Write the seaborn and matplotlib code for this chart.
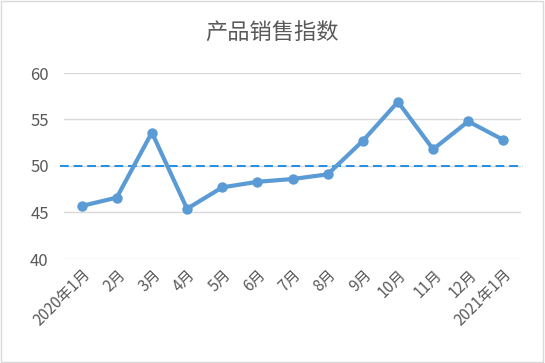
import matplotlib
matplotlib.use("Agg")
import matplotlib.pyplot as plt
import seaborn as sns
import pandas as pd
from matplotlib.patches import Rectangle

months = ["2020年1月", "2月", "3月", "4月", "5月", "6月", "7月", "8月", "9月",
          "10月", "11月", "12月", "2021年1月"]
index_values = [45.7, 46.6, 53.6, 45.4, 47.7, 48.3, 48.6, 49.1, 52.7,
                56.9, 51.8, 54.8, 52.8]
reference_level = 50
title = "产品销售指数"
y_ticks = [40, 45, 50, 55, 60]

sns.set_theme(style="white")
plt.rcParams["font.family"] = ["Noto Sans CJK SC", "DejaVu Sans"]

df = pd.DataFrame({"month": months, "value": index_values})
df["pos"] = range(len(df))

fig = plt.figure(figsize=(5.45, 3.63), dpi=100)
ax = fig.add_axes([64 / 545, 1 - 259 / 363, (521 - 64) / 545, (259 - 73) / 363])

for yv in y_ticks:
    ax.axhline(yv, color="#d9d9d9", lw=1.0, zorder=0)

ax.axhline(reference_level, xmin=-0.008, xmax=1.004, color="#1f8fe6",
           lw=1.4, ls=(0, (4.5, 2.5)), clip_on=False, zorder=1)

sns.lineplot(data=df, x="pos", y="value", ax=ax, sort=False, color="#5b9bd5",
             lw=3.0, marker="o", markersize=7.5, markeredgewidth=0,
             zorder=3, legend=False)

ax.set_xlim(-0.5, len(months) - 0.5)
ax.set_ylim(40, 60)
ax.set_yticks(y_ticks)
ax.set_yticklabels([str(t) for t in y_ticks], fontsize=12, color="#595959")
ax.set_xticks(range(len(months)))
ax.set_xticklabels(months, rotation=45, ha="right", rotation_mode="anchor",
                   fontsize=11, color="#595959")
ax.tick_params(axis="y", length=0, pad=11)
ax.tick_params(axis="x", length=0, pad=5)
ax.set_xlabel("")
ax.set_ylabel("")
for s in ax.spines.values():
    s.set_visible(False)

fig.text(0.5, 1 - 33 / 363, title, ha="center", va="center",
         fontsize=16, color="#595959")

fig.patches.append(Rectangle((0.002, 0.003), 0.994, 0.994, transform=fig.transFigure,
                             fill=False, edgecolor="#d9d9d9", lw=1.0))

fig.savefig("out.png", dpi=100)
